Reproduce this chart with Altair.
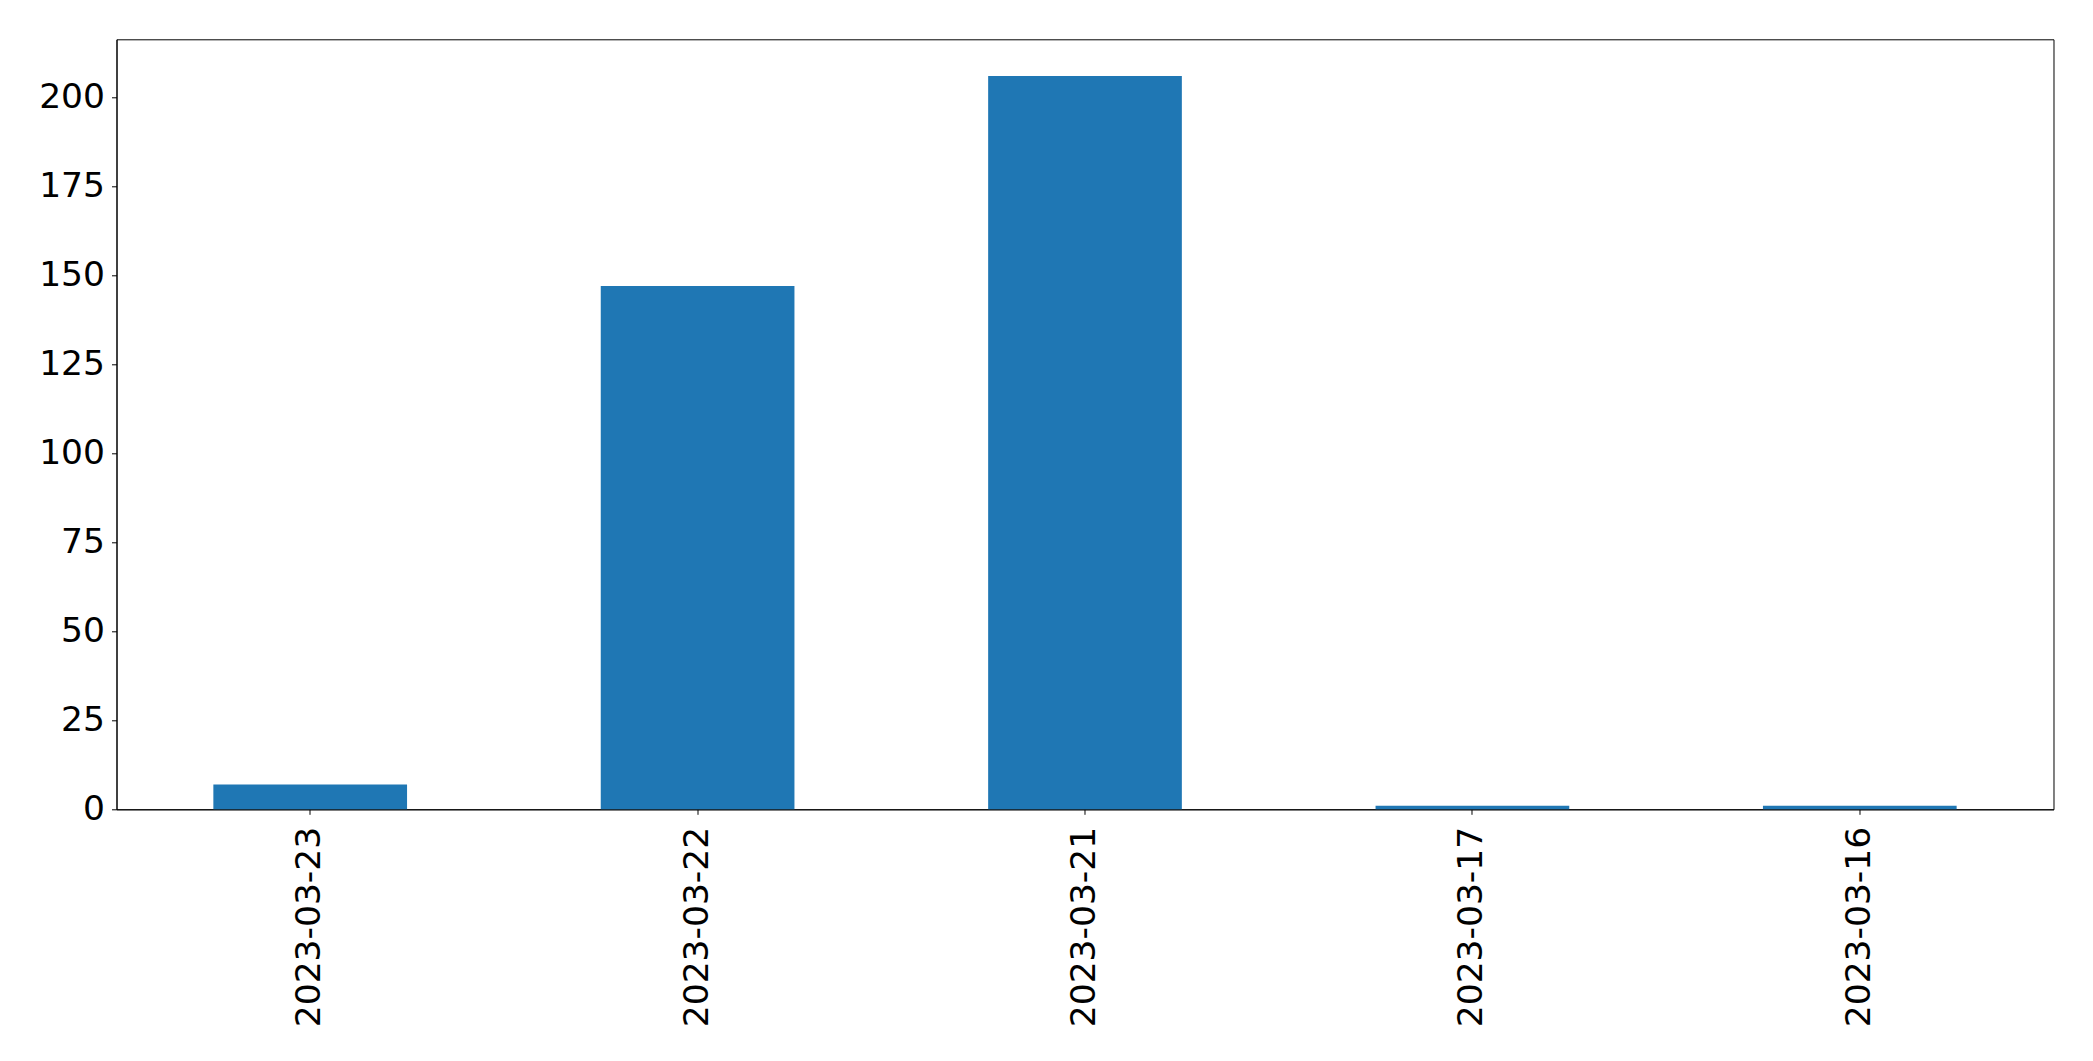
import altair as alt
import pandas as pd

dates = ["2023-03-23", "2023-03-22", "2023-03-21", "2023-03-17", "2023-03-16"]
counts = [7, 147, 206, 1, 1]
y_ticks = [0, 25, 50, 75, 100, 125, 150, 175, 200]

df = pd.DataFrame({"date": dates, "count": counts})

chart = alt.Chart(df).mark_bar(color="#1f77b4").encode(
    x=alt.X("date:N", sort=dates, title=None,
            scale=alt.Scale(paddingInner=0.5, paddingOuter=0.25),
            axis=alt.Axis(labelAngle=270, labelAlign="right", labelBaseline="middle",
                          labelFontSize=34.5, labelFont="DejaVu Sans", labelColor="black",
                          labelLimit=0, tickSize=5, tickColor="black", labelPadding=12,
                          domainColor="black", grid=False)),
    y=alt.Y("count:Q", title=None,
            scale=alt.Scale(domain=[0, 216.3], nice=False, zero=True),
            axis=alt.Axis(values=y_ticks, labelFontSize=34.5, labelFont="DejaVu Sans",
                          labelColor="black", tickSize=5, tickColor="black",
                          labelPadding=7, domainColor="black", grid=False)),
).properties(
    width=1937, height=770,
    autosize=alt.AutoSizeParams(type="none"),
    padding={"left": 108.5, "top": 31.3, "right": 30, "bottom": 240},
).configure_view(stroke="black", strokeWidth=1)

chart.save("out.html", embed_options={"renderer": "svg", "actions": False})
